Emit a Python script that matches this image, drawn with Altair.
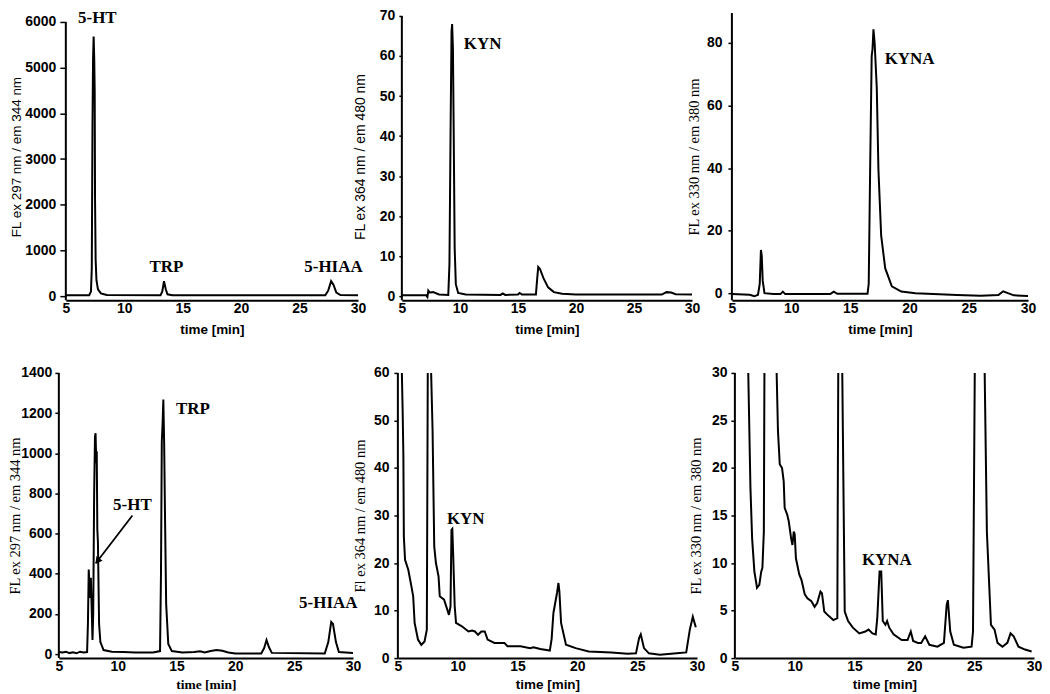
import altair as alt
import pandas as pd

# ---------------- data ----------------
x_ticks = [5, 10, 15, 20, 25, 30]

# Panel 1: standard, ex 297 / em 344
p1_time = [5.0, 7.0, 7.15, 7.22, 7.28, 7.33, 7.38, 7.43, 7.47, 7.5, 7.55, 7.62, 7.75, 8.0, 8.5,
           13.1, 13.25, 13.4, 13.55, 13.7, 14.1, 27.2, 27.45, 27.7, 27.9, 28.15, 28.5, 30.0]
p1_signal = [20, 20, 100, 600, 3700, 5200, 5680, 5200, 4500, 2100, 800, 350, 150, 60, 25,
             20, 100, 330, 150, 40, 20, 20, 120, 330, 250, 80, 25, 20]
p1_yticks = [0, 1000, 2000, 3000, 4000, 5000, 6000]
p1_labels = ["5-HT", "TRP", "5-HIAA"]
p1_label_t = [7.7, 13.6, 27.9]
p1_label_v = [6077, 633, 633]

# Panel 2: standard, ex 364 / em 480
p2_time = [5.0, 7.1, 7.2, 7.28, 7.4, 7.7, 8.2, 9.0, 9.1, 9.2, 9.28, 9.33, 9.4, 9.47, 9.55, 9.65,
           9.85, 10.5, 13.5, 13.7, 13.9, 15.0, 15.15, 15.35, 16.55, 16.65, 16.75, 16.9, 17.2,
           17.6, 18.1, 18.8, 20.0, 27.4, 27.8, 28.2, 28.6, 30.0]
p2_signal = [0.2, 0.2, -0.2, 1.4, 0.9, 1.0, 0.4, 0.3, 8, 42, 66, 68, 62, 40, 12, 3,
             0.8, 0.4, 0.3, 0.7, 0.3, 0.4, 0.8, 0.4, 0.4, 4, 7.3, 6.8, 4.5,
             2.2, 1.0, 0.6, 0.4, 0.4, 1.0, 0.9, 0.5, 0.4]
p2_yticks = [0, 10, 20, 30, 40, 50, 60, 70]
p2_labels = ["KYN"]
p2_label_t = [11.96]
p2_label_v = [62.9]

# Panel 3: standard, ex 330 / em 380
p3_time = [5.0, 6.5, 6.9, 7.2, 7.35, 7.45, 7.52, 7.6, 7.75, 8.5, 9.1, 9.3, 9.5, 13.3, 13.6, 13.9,
           16.45, 16.55, 16.67, 16.8, 16.87, 16.95, 17.05, 17.23, 17.37, 17.6, 17.94, 18.5,
           19.3, 20.5, 24.0, 26.0, 27.5, 27.9, 28.3, 28.8, 30.0]
p3_signal = [-0.3, -0.5, -1.0, -0.5, 3, 13.8, 12, 4, 0, -0.3, -0.3, 0.5, -0.3, -0.3, 0.5, -0.2,
             -0.2, 3, 39.5, 75.8, 78, 84.4, 80, 65.7, 39.5, 18.5, 8, 2.2,
             0.5, 0, -0.6, -0.8, -0.6, 0.6, 0, -0.7, -0.9]
p3_yticks = [0, 20, 40, 60, 80]
p3_labels = ["KYNA"]
p3_label_t = [20.0]
p3_label_v = [74.8]

# Panel 4: sample, ex 297 / em 344
p4_time = [5.0, 5.3, 5.6, 5.9, 6.2, 6.5, 6.8, 7.1, 7.4, 7.47, 7.54, 7.6, 7.66, 7.72, 7.78, 7.86,
           7.92, 8.0, 8.07, 8.12, 8.18, 8.22, 8.27, 8.32, 8.42, 8.53, 8.8, 9.5, 10.5, 11.5, 13.0,
           13.6, 13.68, 13.75, 13.82, 13.88, 13.95, 14.02, 14.12, 14.3, 14.6, 15.5, 16.5, 17.0,
           17.4, 17.9, 18.4, 18.9, 19.4, 20.0, 22.2, 22.45, 22.65, 22.85, 23.1, 27.6, 27.9,
           28.15, 28.3, 28.55, 28.8, 30.0]
p4_signal = [10, 8, 12, 5, 9, 4, 12, 8, 10, 150, 421, 340, 280, 380, 250, 70,
             200, 800, 1080, 1100, 950, 1010, 620, 560, 150, 60, 20, 12, 10, 8, 8,
             15, 400, 1060, 1150, 1267, 1050, 700, 250, 50, 15, 8, 10, 14,
             8, 15, 20, 17, 8, 3, 3, 30, 70, 35, 6, 3, 60,
             160, 150, 60, 10, 5]
p4_yticks = [0, 200, 400, 600, 800, 1000, 1200, 1400]
p4_labels = ["TRP", "5-HT", "5-HIAA"]
p4_label_t = [16.4, 11.25, 27.9]
p4_label_v = [1219, 740, 256]
p4_arrow_from = [11.25, 690]
p4_arrow_to = [8.14, 452]
p4_head = [8.34, 468]

# Panel 5: sample, ex 364 / em 480
p5_time = [5.0, 5.33, 5.4, 5.46, 5.5, 5.6, 5.87, 6.14, 6.28, 6.4, 6.68, 6.96, 7.23, 7.42, 7.5,
           7.6, 7.72, 7.77, 7.9, 8.04, 8.18, 8.4, 8.5, 8.86, 9.13, 9.27, 9.4, 9.48, 9.55, 9.62,
           9.75, 9.86, 10.35, 10.9, 11.2, 11.44, 11.7, 11.98, 12.26, 12.5, 13.07, 13.9, 14.16,
           15.25, 16.06, 16.33, 16.9, 17.7, 17.85, 18.0, 18.3, 18.42, 18.5, 18.64, 19.05,
           19.86, 20.95, 22.85, 24.2, 24.9, 25.16, 25.3, 25.57, 25.98, 26.9, 28.3, 29.1,
           29.4, 29.65, 29.9]
p5_signal = [150, 60.5, 52, 42.5, 25.6, 20.7, 18.6, 15, 13, 7.4, 3.9, 2.8, 3.5, 6, 61,
             200, 200, 61, 48, 23.5, 20, 17.2, 13, 12.3, 10.2, 9.1, 10.9, 27, 27.2, 22,
             10.9, 7.4, 6.7, 5.6, 5.8, 5.6, 4.9, 5.6, 5.6, 3.9, 3.2, 3.2, 2.5,
             2.5, 2.1, 2.3, 1.9, 1.6, 4, 9.5, 13.7, 15.8, 14, 7.4, 2.8,
             2.1, 1.4, 1.2, 0.9, 1.0, 4.2, 5, 2.1, 1.0, 0.7, 1.0, 1.2,
             6, 8.7, 6.5]
p5_yticks = [0, 10, 20, 30, 40, 50, 60]
p5_labels = ["KYN"]
p5_label_t = [10.67]
p5_label_v = [29.3]

# Panel 6: sample, ex 330 / em 380
p6_time = [5.0, 6.0, 6.11, 6.3, 6.44, 6.63, 6.85, 7.04, 7.2, 7.3, 7.42, 7.47, 7.6, 8.35, 8.48,
           8.6, 8.75, 8.94, 9.08, 9.16, 9.37, 9.5, 9.7, 9.81, 9.92, 10.0, 10.1, 10.38, 10.57,
           10.84, 11.06, 11.39, 11.66, 11.88, 12.15, 12.28, 12.47, 12.7, 13.23, 13.56, 13.64,
           13.75, 13.9, 13.97, 14.18, 14.46, 14.86, 15.4, 15.9, 16.17, 16.5, 16.77, 16.9,
           17.09, 17.23, 17.36, 17.58, 17.72, 17.9, 18.26, 18.94, 19.43, 19.7, 19.9, 20.3,
           20.57, 20.9, 21.25, 21.93, 22.47, 22.7, 22.8, 23.0, 23.3, 24.1, 24.78, 24.9,
           25.05, 25.2, 25.75, 25.87, 26.06, 26.4, 26.7, 26.95, 27.36, 27.77, 28.04, 28.3,
           28.7, 29.25, 29.8]
p6_signal = [150, 60, 30.5, 17.9, 12.6, 9.1, 7.4, 7.7, 9.1, 9.5, 13.3, 30.5, 200, 200, 30.5,
             23.9, 20.4, 20, 18.6, 15.8, 15.1, 14.4, 12.6, 11.9, 13.3, 13, 10.5, 8.8, 8.2,
             6.7, 6.3, 6, 5.4, 5.8, 7, 6.8, 4.9, 4.6, 4.0, 4.2, 30.5,
             200, 200, 30.5, 4.9, 3.9, 3.2, 2.6, 2.8, 3.0, 2.6, 2.5, 4.2,
             9.1, 9.1, 3.9, 3.5, 3.9, 3.2, 2.5, 1.9, 1.9, 2.8, 1.8, 1.6,
             1.6, 2.3, 1.4, 1.2, 1.6, 5.6, 6.1, 2.8, 1.4, 1.1, 1.2, 2.8,
             30.5, 200, 200, 30.5, 13.3, 3.5, 3.0, 1.6, 1.2, 1.6, 2.6, 2.3,
             1.2, 0.9, 0.7]
p6_yticks = [0, 5, 10, 15, 20, 25, 30]
p6_labels = ["KYNA"]
p6_label_t = [17.7]
p6_label_v = [10.3]

SANS = "Liberation Sans"
SERIF = "Liberation Serif"


def spacer(w, h):
    return (alt.Chart(pd.DataFrame({"s": [0]}))
            .mark_rule(strokeOpacity=0)
            .encode(x=alt.value(1))
            .properties(width=w, height=h))


def panel(t, v, yticks, labels, lab_t, lab_v, spec, arrow=None):
    xs = alt.Scale(domain=[5, 30], nice=False, zero=False)
    ys = alt.Scale(domain=spec["ydom"], nice=False, zero=False)
    xaxis = alt.Axis(values=x_ticks, format="d", title="time [min]", domain=True,
                     domainColor="black", domainWidth=2, ticks=False, labelFont=SANS,
                     labelFontWeight="bold", labelFontSize=14, labelColor="black",
                     labelPadding=1, labelFlush=False, labelOverlap=False, grid=False,
                     titleFont=spec["xfont"], titleFontWeight="bold", titleFontSize=13.5,
                     titleColor="black", titleBaseline="alphabetic", titleY=spec["xtitleY"])
    yaxis = alt.Axis(values=yticks, format="d", title=spec["ytitle"], domain=False, ticks=True,
                     tickSize=spec["tick"], tickWidth=1.5, tickColor="black",
                     labelPadding=spec["lpad"], labelFont=SANS, labelFontWeight="bold",
                     labelFontSize=14, labelColor="black", labelFlush=False,
                     labelOverlap=False, grid=False, titleFont=spec["yfont"],
                     titleFontWeight="normal", titleFontSize=spec["yfs"], titleColor="black",
                     titleBaseline="alphabetic", titleX=spec["titleX"])
    X = lambda f: alt.X(f, scale=xs, axis=xaxis)
    Y = lambda f: alt.Y(f, scale=ys, axis=yaxis)
    line = (alt.Chart(pd.DataFrame({"t": t, "v": v}))
            .mark_line(color="black", strokeWidth=2, clip=True)
            .encode(x=X("t:Q"), y=Y("v:Q")))
    yline = (alt.Chart(pd.DataFrame({"t": [5.0], "v": [spec["ydom"][0]], "v2": [spec["ytop"]]}))
             .mark_rule(color="black", strokeWidth=2)
             .encode(x=X("t:Q"), y=Y("v:Q"), y2="v2:Q"))
    text = (alt.Chart(pd.DataFrame({"t": lab_t, "v": lab_v, "label": labels}))
            .mark_text(font=SERIF, fontWeight="bold", fontSize=17, color="black",
                       align="center", baseline="middle")
            .encode(x=X("t:Q"), y=Y("v:Q"), text="label:N"))
    layers = [yline, line, text]
    if arrow is not None:
        a_from, a_to, head = arrow
        adf = pd.DataFrame({"t": [a_from[0]], "v": [a_from[1]],
                            "t2": [a_to[0]], "v2": [a_to[1]]})
        shaft = (alt.Chart(adf).mark_rule(color="black", strokeWidth=1.8)
                 .encode(x=X("t:Q"), x2="t2:Q", y=Y("v:Q"), y2="v2:Q"))
        tip = (alt.Chart(pd.DataFrame({"t": [head[0]], "v": [head[1]]}))
               .mark_point(shape="triangle", filled=True, color="black", size=60,
                           angle=217, opacity=1)
               .encode(x=X("t:Q"), y=Y("v:Q")))
        layers += [shaft, tip]
    return alt.layer(*layers).properties(width=spec["w"], height=spec["h"])


H1, H2 = 288, 286
s1 = dict(w=293, h=H1, ydom=[-87, 6196], ytop=6000, tick=6, lpad=4, titleX=-45,
          ytitle="FL ex 297 nm / em 344 nm", yfont=SANS, yfs=13.5, xfont=SANS, xtitleY=33)
s2 = dict(w=291, h=H1, ydom=[-1.0, 70.75], ytop=70, tick=3, lpad=4, titleX=-37,
          ytitle="FL ex 364 nm / em 480 nm", yfont=SANS, yfs=14, xfont=SANS, xtitleY=33)
s3 = dict(w=297, h=H1, ydom=[-2.23, 89.6], ytop=89.6, tick=4, lpad=6, titleX=-33,
          ytitle="FL ex 330 nm / em 380 nm", yfont=SERIF, yfs=14.5, xfont=SANS, xtitleY=33)
s4 = dict(w=295, h=H2, ydom=[-20, 1400], ytop=1400, tick=4, lpad=3, titleX=-39,
          ytitle="FL ex 297 nm / em 344 nm", yfont=SERIF, yfs=14.5, xfont=SERIF, xtitleY=30)
s5 = dict(w=300, h=H2, ydom=[0, 60], ytop=60, tick=4, lpad=5, titleX=-33,
          ytitle="Fl ex 364 nm / em 480 nm", yfont=SERIF, yfs=14.5, xfont=SANS, xtitleY=30)
s6 = dict(w=300, h=H2, ydom=[0, 30], ytop=30, tick=4, lpad=4, titleX=-34,
          ytitle="FL  ex 330 nm / em 380 nm", yfont=SERIF, yfs=14.5, xfont=SANS, xtitleY=30)

c1 = panel(p1_time, p1_signal, p1_yticks, p1_labels, p1_label_t, p1_label_v, s1)
c2 = panel(p2_time, p2_signal, p2_yticks, p2_labels, p2_label_t, p2_label_v, s2)
c3 = panel(p3_time, p3_signal, p3_yticks, p3_labels, p3_label_t, p3_label_v, s3)
c4 = panel(p4_time, p4_signal, p4_yticks, p4_labels, p4_label_t, p4_label_v, s4,
           arrow=(p4_arrow_from, p4_arrow_to, p4_head))
c5 = panel(p5_time, p5_signal, p5_yticks, p5_labels, p5_label_t, p5_label_v, s5)
c6 = panel(p6_time, p6_signal, p6_yticks, p6_labels, p6_label_t, p6_label_v, s6)

row1 = alt.hconcat(spacer(57, H1), c1, spacer(44, H1), c2, spacer(40, H1), c3,
                   spacing=0, bounds="flush")
row2 = alt.hconcat(spacer(50, H2), c4, spacer(45, H2), c5, spacer(38, H2), c6,
                   spacing=0, bounds="flush")

chart = (alt.vconcat(row1, row2, spacing=30)
         .properties(padding={"left": 0, "top": 0, "right": 0, "bottom": 0},
                     background="white")
         .configure_view(stroke=None))

chart.save("out.html", embed_options={"renderer": "svg", "actions": False})
